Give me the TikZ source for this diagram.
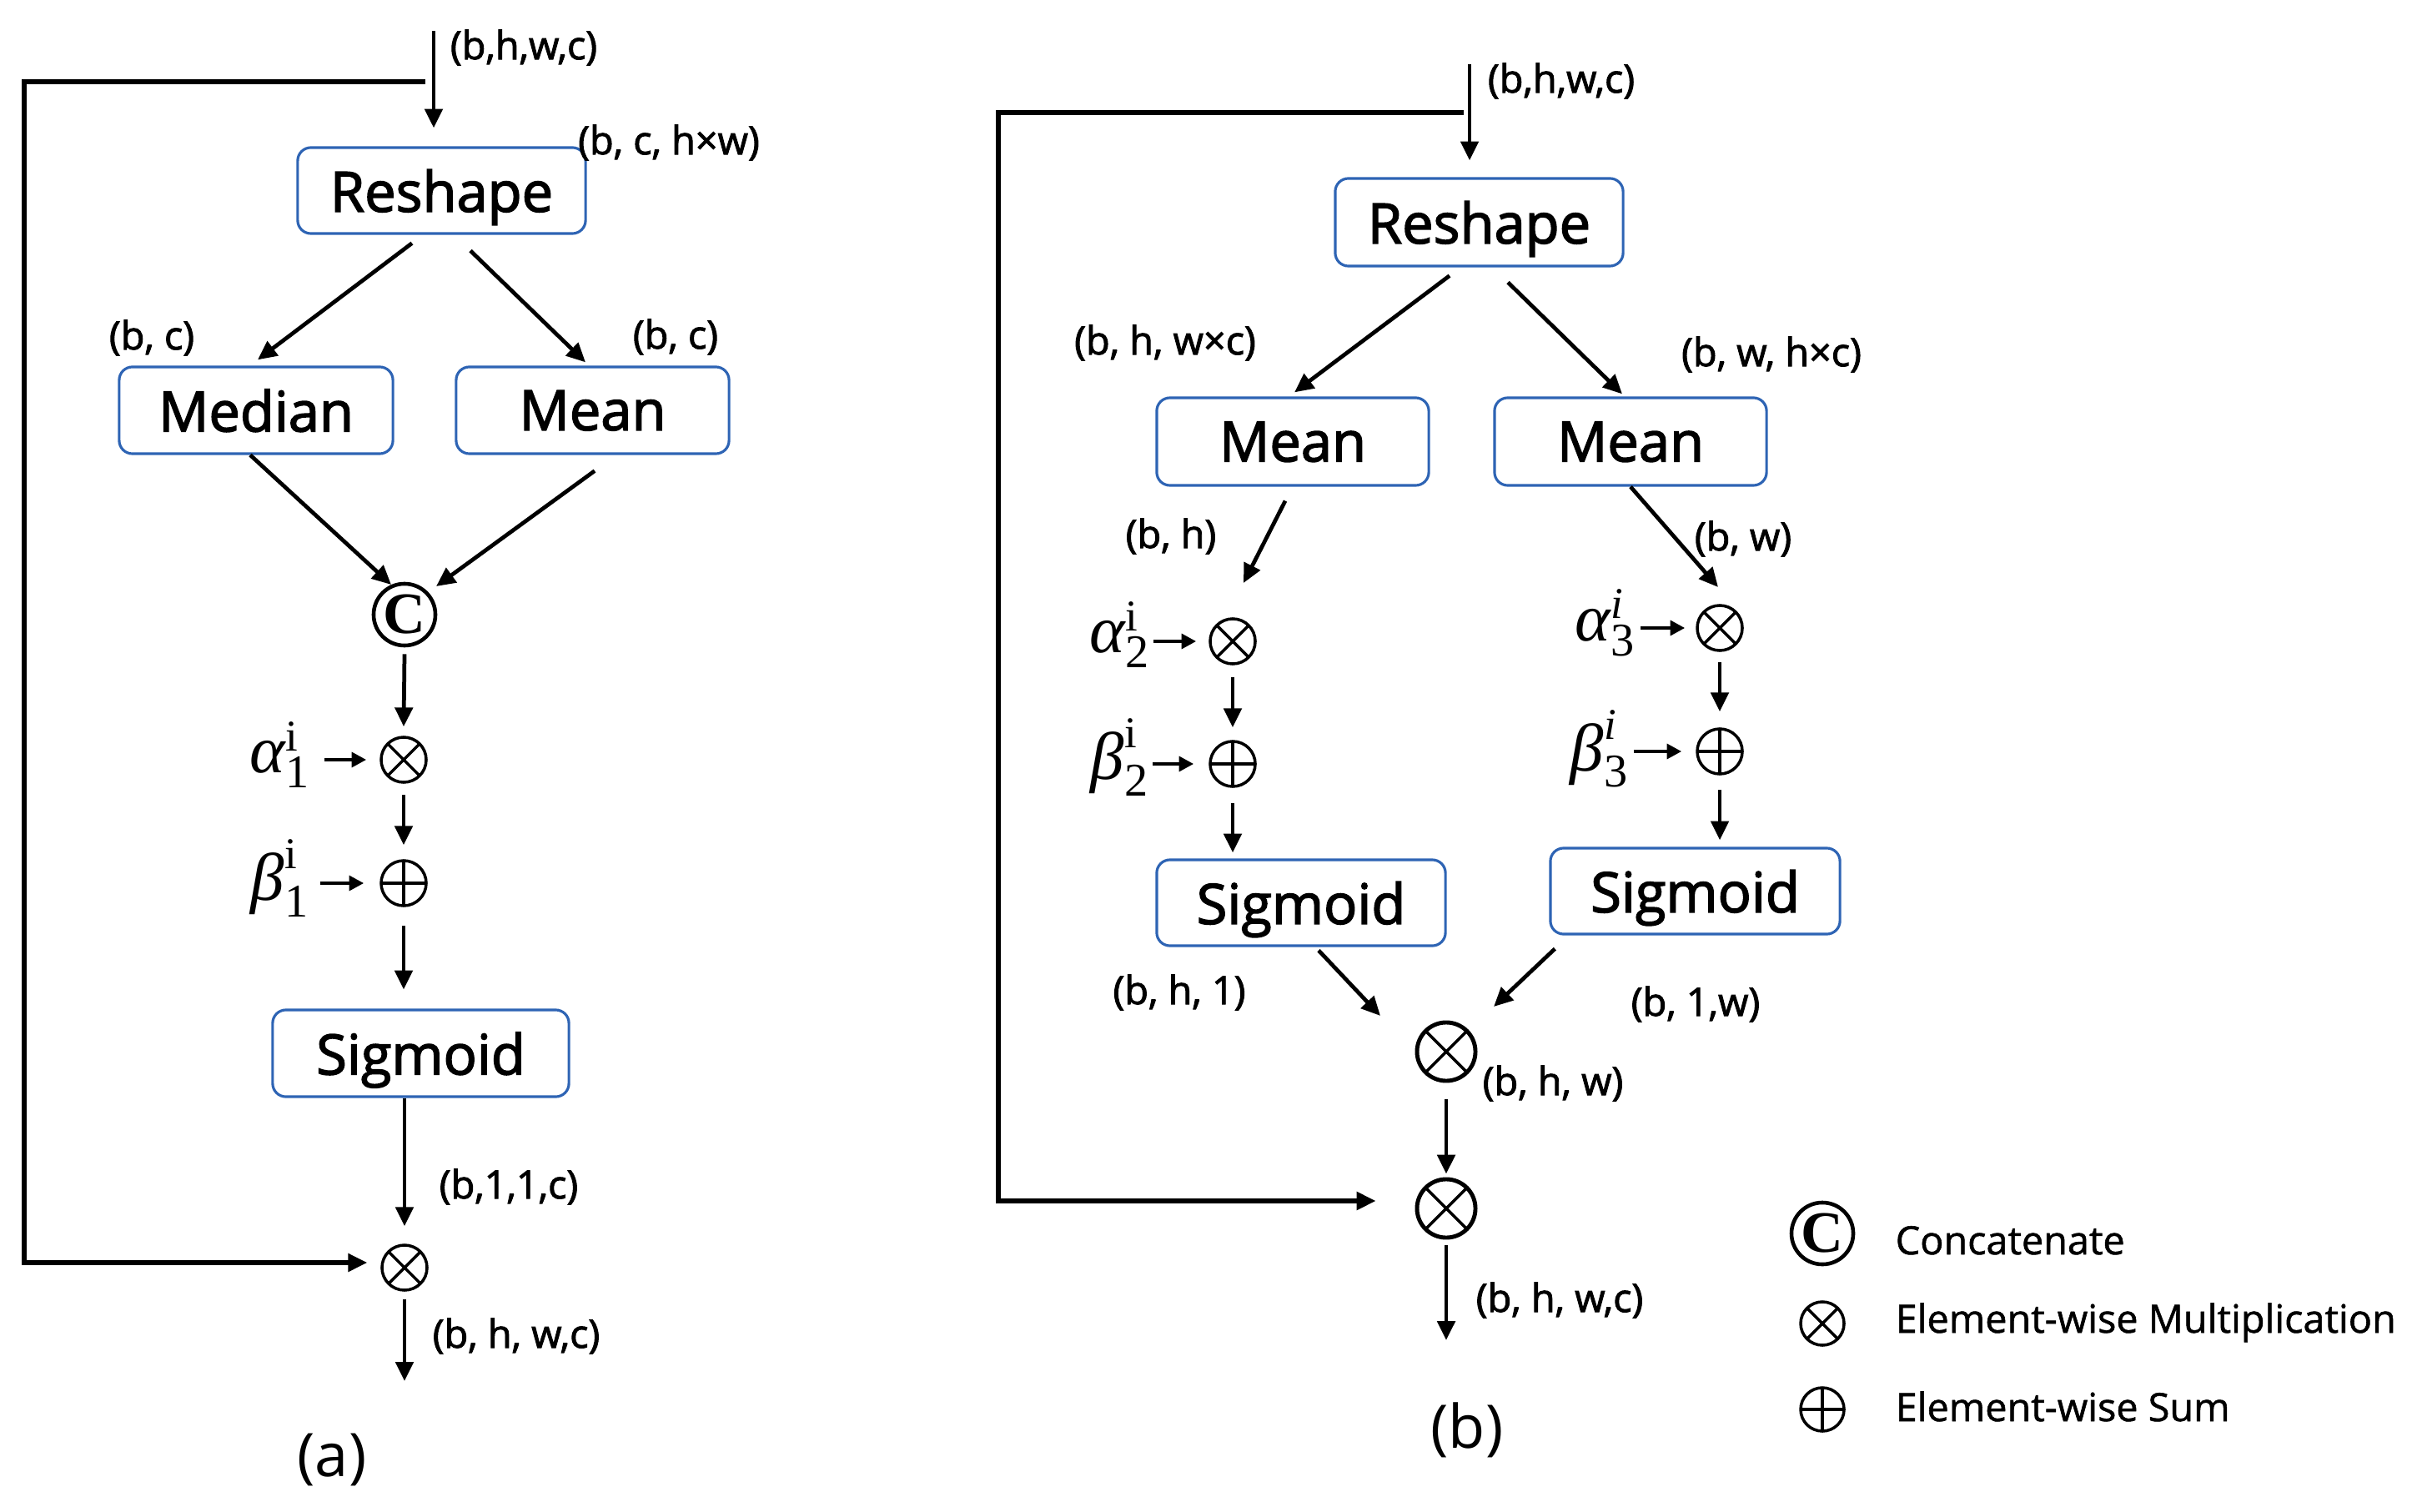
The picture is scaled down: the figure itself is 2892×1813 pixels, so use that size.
\documentclass[tikz,border=0pt]{standalone}
\usepackage[no-math]{fontspec}
\setmainfont{Open Sans}
\newfontfamily\boxfam{Open Sans}[RawFeature={embolden=2.2}]
\newfontfamily\lblfam{Open Sans}[RawFeature={embolden=2}]
\newfontfamily\lgdfam{Open Sans}[RawFeature={embolden=1.2}]
\newfontfamily\serifC{Liberation Serif}
\newfontfamily\libs{Liberation Serif}
\usetikzlibrary{arrows.meta,calc}
\definecolor{boxblue}{RGB}{46,100,180}
\newcommand\myboxfont{\boxfam\fontsize{19}{22}\selectfont}
\newcommand\mylblfont{\lblfam\fontsize{13.3}{16}\selectfont}
\newcommand\mylgdfont{\lgdfam\fontsize{13.3}{16}\selectfont}
\newcommand\mycapfont{\fontsize{20.5}{24}\selectfont}
\newcommand\mymathfont{\fontsize{20}{24}\selectfont}
\newcommand\gk[3]{$\hbox{\libs\fontsize{23}{23}\selectfont\itshape #1}^{\hbox{\libs\fontsize{15}{15}\selectfont #2}}_{\hbox{\libs\fontsize{16}{16}\selectfont #3}}$}
\begin{document}
\begin{tikzpicture}[x=0.01cm,y=-0.01cm,
  box/.style={draw=boxblue, line width=0.9pt, rounded corners=4.5pt, inner sep=0pt, text depth=0pt, font=\myboxfont},
  lbl/.style={inner sep=0pt, font=\mylblfont},
  lgd/.style={inner sep=0pt, font=\mylgdfont},
  captxt/.style={inner sep=0pt, font=\mycapfont},
  mth/.style={inner sep=0pt, font=\mymathfont},
  arr/.style={line width=1.35pt, -{Triangle[length=6.5pt,width=6pt]}},
  sarr/.style={line width=1.25pt, -{Triangle[length=5pt,width=5pt]}},
  fb/.style={line width=1.45pt, -{Triangle[length=6.5pt,width=6pt]}},
  mulsym/.style={circle, draw, line width=1pt, inner sep=0pt,
    path picture={\draw[line width=1pt] (path picture bounding box.north east) -- (path picture bounding box.south west);
                  \draw[line width=1pt] (path picture bounding box.north west) -- (path picture bounding box.south east);}},
  addsym/.style={circle, draw, line width=1pt, inner sep=0pt,
    path picture={\draw[line width=1pt] (path picture bounding box.north) -- (path picture bounding box.south);
                  \draw[line width=1pt] (path picture bounding box.west) -- (path picture bounding box.east);}},
  catsym/.style={circle, draw, line width=1.3pt, inner sep=0pt, font=\serifC\bfseries\fontsize{20}{20}\selectfont}
]
\useasboundingbox (0,0) rectangle (2892,1813);

% ================= panel (a) =================
\coordinate (inA) at (520,37);
\coordinate (fbA) at (29,98);
\node[box, minimum width=3.45cm, minimum height=1.03cm] (resA) at (529.5,228.5) {Reshape};
\node[box, minimum width=3.28cm, minimum height=1.04cm] (medA) at (307,492) {Median};
\node[box, minimum width=3.27cm, minimum height=1.04cm] (meanA) at (710.5,492) {Mean};
\node[catsym, minimum size=0.74cm] (catA) at (485,737) {C};
\node[mulsym, minimum size=0.54cm] (mulA) at (484,911) {};
\node[addsym, minimum size=0.54cm] (addA) at (484,1059) {};
\node[box, minimum width=3.55cm, minimum height=1.04cm] (sigA) at (504.5,1263) {Sigmoid};
\node[mulsym, minimum size=0.54cm] (mulA2) at (485,1520) {};
\coordinate (outA) at (485,1656);

\node[mth] (alA) at (336,905) {\gk{α}{i}{1}};
\node[mth] (beA) at (336,1053) {\gk{β}{i}{1}};

\node[lbl] (lA1) at (628,57) {(b,h,w,c)};
\node[lbl] (lA2) at (802,171) {(b, c, h×w)};
\node[lbl] (lA3) at (182,405) {(b, c)};
\node[lbl] (lA4) at (810,404) {(b, c)};
\node[lbl] (lA5) at (610,1423) {(b,1,1,c)};
\node[lbl] (lA6) at (619,1602) {(b, h, w,c)};
\node[captxt] (capA) at (398,1750) {(a)};

\draw[arr] (inA) -- ($(inA |- resA.north)+(0,-22)$);
\draw[fb] ($(inA)+(-10,61)$) -- (fbA) |- ($(mulA2.west)+(-16,-6)$);
\draw[arr] ($(resA.south)+(-35.5,10)$) -- ($(medA.north)+(2,-7)$);
\draw[arr] ($(resA.south)+(34.5,19)$) -- ($(meanA.north)+(-8.5,-4)$);
\draw[arr] ($(medA.south)+(-7,0)$) -- ($(catA)+(-16,-36)$);
\draw[arr] ($(meanA.south)+(2.5,19)$) -- ($(catA)+(38,-34)$);
\draw[arr] ($(catA.south)+(0,8)$) -- ($(mulA.north)+(0,-11)$);
\draw[sarr] ($(alA.east |- mulA)+(16,0)$) -- ($(mulA.west)+(-16,0)$);
\draw[arr] ($(mulA.south)+(0,13)$) -- ($(addA.north)+(0,-17)$);
\draw[sarr] ($(beA.east |- addA)+(12,0)$) -- ($(addA.west)+(-19,0)$);
\draw[arr] ($(addA.south)+(0,22)$) -- ($(addA |- sigA.north)+(0,-23)$);
\draw[arr] (mulA2 |- sigA.south) -- ($(mulA2.north)+(0,-21)$);
\draw[arr] ($(mulA2.south)+(0,9)$) -- (outA);

% ================= panel (b) =================
\coordinate (inB) at (1762,77);
\coordinate (fbB) at (1197,135);
\node[box, minimum width=3.45cm, minimum height=1.05cm] (resB) at (1773.5,266.5) {Reshape};
\node[box, minimum width=3.26cm, minimum height=1.05cm] (mean1B) at (1550,529.5) {Mean};
\node[box, minimum width=3.26cm, minimum height=1.05cm] (mean2B) at (1955,529.5) {Mean};
\node[mulsym, minimum size=0.54cm] (mulB) at (1478,769) {};
\node[addsym, minimum size=0.54cm] (addB) at (1478,916) {};
\node[mulsym, minimum size=0.54cm] (mulC) at (2062,753) {};
\node[addsym, minimum size=0.54cm] (addC) at (2062,901) {};
\node[box, minimum width=3.46cm, minimum height=1.03cm] (sig1B) at (1560,1082.5) {Sigmoid};
\node[box, minimum width=3.47cm, minimum height=1.03cm] (sig2B) at (2032.5,1068.5) {Sigmoid};
\node[mulsym, line width=1.4pt, minimum size=0.70cm] (mulD) at (1734,1261) {};
\node[mulsym, line width=1.4pt, minimum size=0.70cm] (mulE) at (1734,1449) {};
\coordinate (outB) at (1734,1607);

\node[mth] (alB) at (1343,761) {\gk{α}{i}{2}};
\node[mth] (beB) at (1343,908) {\gk{β}{i}{2}};
\node[mth] (alC) at (1925,747) {\gk{α}{\itshape i}{3}};
\node[mth] (beC) at (1918,898) {\gk{β}{\itshape i}{3}};

\node[lbl] (lB1) at (1872,97) {(b,h,w,c)};
\node[lbl] (lB2) at (1397,411) {(b, h, w×c)};
\node[lbl] (lB3) at (2124,425) {(b, w, h×c)};
\node[lbl] (lB4) at (1404,643) {(b, h)};
\node[lbl] (lB5) at (2090,646) {(b, w)};
\node[lbl] (lB6) at (1414,1190) {(b, h, 1)};
\node[lbl] (lB7) at (2033,1204) {(b, 1,w)};
\node[lbl] (lB8) at (1862,1299) {(b, h, w)};
\node[lbl] (lB9) at (1870,1559) {(b, h, w,c)};
\node[captxt] (capB) at (1759,1715) {(b)};

\draw[arr] (inB) -- ($(inB |- resB.north)+(0,-20)$);
\draw[fb] ($(inB)+(-7,58)$) -- (fbB) |- ($(mulE.west)+(-47,-9)$);
\draw[arr] ($(resB.south)+(-35.5,10)$) -- ($(mean1B.north)+(2,-5)$);
\draw[arr] ($(resB.south)+(34.5,18)$) -- ($(mean2B.north)+(-10,-3)$);
\draw[arr] ($(mean1B.south)+(-9,17)$) -- ($(mulB)+(13,-70)$);
\draw[arr] (mean2B.south) -- ($(mulC)+(-2,-49)$);
\draw[sarr] ($(alB.east |- mulB)+(3,0)$) -- ($(mulB.west)+(-15,0)$);
\draw[sarr] ($(beB.east |- addB)+(3,0)$) -- ($(addB.west)+(-18,0)$);
\draw[sarr] ($(alC.east |- mulC)+(5,0)$) -- ($(mulC.west)+(-13,0)$);
\draw[sarr] ($(beC.east |- addC)+(5,0)$) -- ($(addC.west)+(-17,0)$);
\draw[arr] ($(mulB.south)+(0,14)$) -- ($(addB.north)+(0,-15)$);
\draw[arr] ($(mulC.south)+(0,12)$) -- ($(addC.north)+(0,-19)$);
\draw[arr] ($(addB.south)+(0,18)$) -- ($(addB |- sig1B.north)+(0,-7)$);
\draw[arr] ($(addC.south)+(0,17)$) -- ($(addC |- sig2B.north)+(0,-8)$);
\draw[arr] ($(sig1B.south)+(21,4)$) -- ($(mulD)+(-79,-43)$);
\draw[arr] ($(sig2B.south west)+(7,16)$) -- ($(mulD)+(57,-54)$);
\draw[arr] ($(mulD.south)+(0,20)$) -- ($(mulE.north)+(0,-4)$);
\draw[arr] ($(mulE.south)+(0,7)$) -- (outB);

% ================= legend =================
\node[catsym, minimum size=0.74cm] (lgC) at (2185,1479) {C};
\node[mulsym, minimum size=0.52cm] (lgM) at (2185,1587) {};
\node[addsym, minimum size=0.52cm] (lgA) at (2185,1690) {};
\node[lgd, anchor=base west] (lgCt) at (2272,1504) {Concatenate};
\node[lgd, anchor=base west] (lgMt) at (2272,1598) {Element-wise Multiplication};
\node[lgd, anchor=base west] (lgAt) at (2272,1704) {Element-wise Sum};
\end{tikzpicture}
\end{document}
